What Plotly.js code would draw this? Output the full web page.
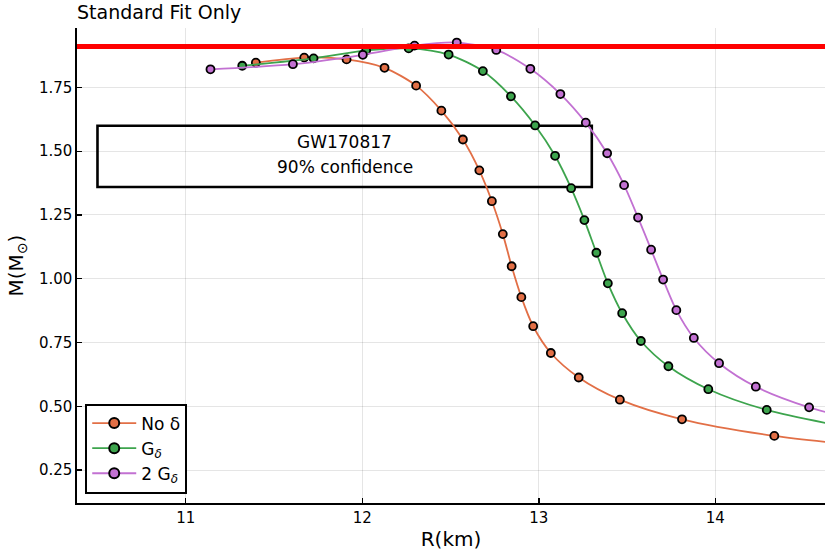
<!DOCTYPE html>
<html>
<head>
<meta charset="utf-8">
<script src="https://cdn.plot.ly/plotly-3.0.1.min.js"></script>
<style>
  html, body { margin: 0; padding: 0; background: #fff; }
  #plot { width: 830px; height: 554px; }
</style>
</head>
<body>
<div id="plot"></div>
<script>
// mass-radius curves
const rNoDelta = [11.397, 11.671, 11.911, 12.126, 12.305, 12.448, 12.570, 12.663, 12.734, 12.796,
                  12.846, 12.901, 12.968, 13.068, 13.226, 13.459, 13.811, 14.334, 15.0]
const mNoDelta = [1.847, 1.867, 1.860, 1.827, 1.757, 1.659, 1.546, 1.425, 1.304, 1.175,
                  1.049, 0.928, 0.814, 0.709, 0.613, 0.526, 0.449, 0.384, 0.335]

const rGDelta = [11.320, 11.724, 12.022, 12.263, 12.489, 12.683, 12.842, 12.979, 13.092, 13.183,
                 13.258, 13.326, 13.391, 13.472, 13.578, 13.734, 13.960, 14.291, 15.0]
const mGDelta = [1.835, 1.864, 1.895, 1.903, 1.879, 1.814, 1.715, 1.601, 1.482, 1.355,
                 1.230, 1.102, 0.982, 0.865, 0.756, 0.657, 0.567, 0.486, 0.385]

const r2GDelta = [11.140, 11.607, 12.003, 12.296, 12.535, 12.759, 12.952, 13.122, 13.266, 13.387,
                  13.483, 13.562, 13.636, 13.704, 13.779, 13.878, 14.021, 14.229, 14.531, 14.9]
const m2GDelta = [1.821, 1.841, 1.878, 1.914, 1.926, 1.897, 1.823, 1.724, 1.612, 1.492,
                  1.367, 1.240, 1.114, 0.997, 0.877, 0.768, 0.669, 0.577, 0.496, 0.43]

const seriesNames = ["No δ", "G<sub><i>δ</i></sub>", "2 G<sub><i>δ</i></sub>"]
const seriesColors = ["#E26F46", "#3DA44D", "#C271D2"]

// observational constraints
const maxMass = 1.91
const gwBoxR = [10.5, 13.3]
const gwBoxM = [1.36, 1.6]
const gwLabels = ["GW170817", "90% confidence"]
const gwLabelM = [1.536, 1.437]

const xTicks = [11, 12, 13, 14]
const yTicks = [0.25, 0.5, 0.75, 1.0, 1.25, 1.5, 1.75]

const font = "DejaVu Sans, sans-serif"

function curve(x, y, i) {
    return {
        type: "scatter",
        mode: "lines+markers",
        name: seriesNames[i],
        x: x,
        y: y,
        showlegend: false,
        line: { color: seriesColors[i], width: 1.8, shape: "spline", smoothing: 0.8 },
        marker: { size: 8, color: seriesColors[i], line: { color: "black", width: 1.8 } }
    }
}

// legend-only entries: the legend symbols are drawn bigger than the plot markers
function legendEntry(i) {
    return {
        type: "scatter",
        mode: "lines+markers",
        name: seriesNames[i],
        x: [null],
        y: [null],
        line: { color: seriesColors[i], width: 1.8 },
        marker: { size: 10, color: seriesColors[i], line: { color: "black", width: 2 } }
    }
}

const data = [
    curve(rNoDelta, mNoDelta, 0),
    curve(rGDelta, mGDelta, 1),
    curve(r2GDelta, m2GDelta, 2),
    legendEntry(0), legendEntry(1), legendEntry(2)
]

const axisCommon = {
    showgrid: true,
    gridcolor: "rgba(0,0,0,0.1)",
    gridwidth: 1,
    zeroline: false,
    showline: true,
    linecolor: "black",
    linewidth: 1.6,
    ticks: "inside",
    ticklen: 5,
    tickwidth: 1.4,
    tickcolor: "black",
    tickfont: { family: font, size: 15, color: "black" }
}

const layout = {
    width: 830,
    height: 554,
    margin: { l: 77, r: 5, t: 28, b: 51 },
    paper_bgcolor: "white",
    plot_bgcolor: "white",
    font: { family: font, color: "black" },
    title: {
        text: "Standard Fit Only",
        font: { family: font, size: 19, color: "black" },
        xref: "paper", x: 0, xanchor: "left",
        yref: "container", y: 0.978, yanchor: "middle"
    },
    xaxis: Object.assign({}, axisCommon, {
        range: [10.384, 14.621],
        tickvals: xTicks,
        ticktext: xTicks.map(String),
        title: { text: "R(km)", font: { family: font, size: 20, color: "black" }, standoff: 6 }
    }),
    yaxis: Object.assign({}, axisCommon, {
        range: [0.121, 1.983],
        tickvals: yTicks,
        tickformat: ".2f",
        title: { text: "M(M<sub>⊙</sub>)", font: { family: font, size: 20, color: "black" }, standoff: 10 }
    }),
    legend: {
        x: 0.011, y: 0.02, xanchor: "left", yanchor: "bottom",
        bgcolor: "white",
        bordercolor: "black",
        borderwidth: 2,
        itemwidth: 44,
        font: { family: font, size: 17, color: "black" }
    },
    shapes: [
        {
            type: "line", xref: "paper", x0: 0, x1: 1, yref: "y", y0: maxMass, y1: maxMass,
            line: { color: "#FF0000", width: 5 }
        },
        {
            type: "rect", xref: "x", yref: "y",
            x0: gwBoxR[0], x1: gwBoxR[1], y0: gwBoxM[0], y1: gwBoxM[1],
            line: { color: "black", width: 2.6 }, layer: "below"
        }
    ],
    annotations: gwLabels.map((t, i) => ({
        text: t, x: (gwBoxR[0] + gwBoxR[1]) / 2, y: gwLabelM[i],
        xref: "x", yref: "y", showarrow: false,
        font: { family: font, size: 17, color: "black" }
    }))
}

Plotly.newPlot("plot", data, layout, { displayModeBar: false, staticPlot: true })
</script>
</body>
</html>
